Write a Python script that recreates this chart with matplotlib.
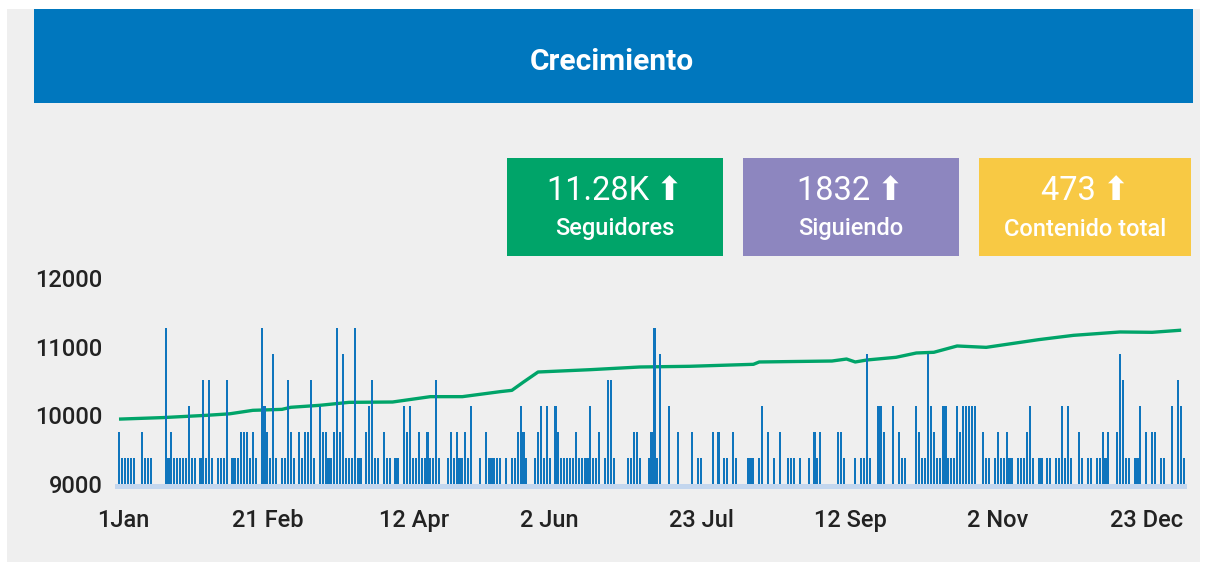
import matplotlib
matplotlib.use("Agg")
import matplotlib.pyplot as plt
from matplotlib.patches import Rectangle
from matplotlib import font_manager as fm

plt.rcParams['font.family'] = ['Roboto', 'DejaVu Sans']

# ---------------- data ----------------
title = "Crecimiento"
kpi_values = ["11.28K", "1832", "473"]
kpi_labels = ["Seguidores", "Siguiendo", "Contenido total"]
kpi_colors = ["#00a469", "#8d86bf", "#f8c944"]

tick_labels = ["1Jan", "21 Feb", "12 Apr", "2 Jun", "23 Jul", "12 Sep", "2 Nov", "23 Dec"]
tick_pos = [1.5, 51, 101.5, 148, 200, 251.5, 302, 353]

y_ticks = [9000, 10000, 11000, 12000]

# daily content count (bars), one value per day
posts_per_day = [
    2, 1, 1, 1, 1, 1, 0, 0, 2, 1,
    1, 1, 0, 0, 0, 0, 6, 1, 2, 1,
    1, 1, 1, 1, 3, 1, 1, 0, 1, 4,
    1, 4, 1, 0, 1, 1, 1, 4, 0, 1,
    1, 1, 2, 2, 2, 1, 2, 1, 0, 6,
    3, 2, 1, 5, 1, 0, 1, 1, 4, 2,
    1, 0, 2, 1, 2, 2, 4, 1, 0, 3,
    2, 2, 1, 1, 2, 6, 2, 5, 1, 1,
    1, 6, 1, 1, 0, 2, 3, 4, 1, 1,
    0, 2, 1, 1, 0, 1, 1, 0, 3, 2,
    3, 1, 1, 2, 1, 1, 2, 1, 1, 4,
    1, 0, 0, 1, 2, 1, 2, 1, 1, 2,
    1, 3, 0, 0, 1, 0, 2, 1, 1, 1,
    1, 1, 0, 1, 0, 1, 1, 2, 3, 2,
    1, 0, 0, 1, 2, 3, 1, 3, 1, 0,
    3, 2, 1, 1, 1, 1, 1, 2, 1, 1,
    1, 1, 3, 1, 1, 2, 0, 1, 4, 4,
    1, 0, 0, 0, 0, 1, 1, 2, 2, 1,
    0, 0, 1, 2, 6, 1, 5, 0, 0, 3,
    0, 0, 2, 0, 0, 0, 0, 2, 0, 1,
    1, 0, 0, 0, 2, 0, 2, 0, 1, 1,
    0, 2, 1, 0, 0, 0, 1, 1, 1, 0,
    1, 3, 0, 2, 0, 1, 0, 2, 0, 0,
    1, 1, 1, 0, 1, 0, 0, 1, 0, 2,
    1, 2, 0, 0, 0, 0, 0, 2, 2, 1,
    0, 0, 0, 1, 0, 1, 1, 5, 1, 0,
    0, 3, 3, 2, 0, 0, 3, 0, 2, 1,
    1, 0, 0, 0, 3, 2, 1, 1, 5, 3,
    2, 1, 1, 3, 3, 1, 1, 1, 3, 2,
    3, 3, 3, 3, 3, 0, 0, 2, 1, 1,
    0, 1, 2, 1, 1, 2, 1, 1, 0, 1,
    1, 1, 2, 3, 1, 0, 1, 1, 0, 1,
    1, 0, 1, 1, 3, 1, 3, 1, 0, 0,
    2, 1, 0, 1, 1, 0, 1, 1, 2, 1,
    2, 0, 0, 2, 5, 4, 1, 1, 0, 1,
    1, 3, 0, 2, 0, 2, 2, 0, 1, 1,
    0, 0, 3, 0, 4, 3, 1,
]

# followers (line)
follower_days = [0, 15, 30, 38, 46, 56, 59, 69, 79, 94, 107, 118, 131, 135, 139,
                 144, 162, 179, 196, 218, 220, 245, 250, 253, 257, 267, 274, 280,
                 288, 298, 316, 328, 344, 355, 365]
follower_values = [9945, 9967, 10000, 10022, 10073, 10087, 10117, 10146, 10189,
                   10194, 10272, 10272, 10345, 10364, 10485, 10631, 10665, 10704,
                   10714, 10743, 10777, 10791, 10820, 10777, 10806, 10845, 10908,
                   10918, 11010, 10990, 11102, 11165, 11214, 11209, 11240]

# ---------------- fonts ----------------
medium_file = None
for f in fm.fontManager.ttflist:
    if f.name == "Roboto" and f.weight in (500, "medium") and f.style == "normal":
        medium_file = f.fname
        break
if medium_file:
    tick_fp = fm.FontProperties(fname=medium_file, size=17)
    label_fp = fm.FontProperties(fname=medium_file, size=17)
else:
    tick_fp = fm.FontProperties(family="Roboto", weight="bold", size=16.5)
    label_fp = fm.FontProperties(family="Roboto", weight="normal", size=17)

# ---------------- figure ----------------
W, H = 1208, 565
fig = plt.figure(figsize=(W / 100, H / 100), dpi=100, facecolor="white")

def fx(px):
    return px / W

def fy(py):
    return 1 - py / H

# panel background
fig.patches.append(Rectangle((fx(7), fy(562)), fx(1200) - fx(7), fy(9) - fy(562),
                             transform=fig.transFigure, facecolor="#efefef",
                             edgecolor="none", zorder=-10))
# header
fig.patches.append(Rectangle((fx(34), fy(103)), fx(1193) - fx(34), fy(9) - fy(103),
                             transform=fig.transFigure, facecolor="#0077be",
                             edgecolor="none", zorder=-5))
fig.text(fx(612), fy(62), title, color="white", fontsize=21.5, fontweight="bold",
         ha="center", va="center")

# KPI cards
card_x = [(507, 723), (743, 959), (979, 1191)]
for (x0, x1), val, lab, col in zip(card_x, kpi_values, kpi_labels, kpi_colors):
    fig.patches.append(Rectangle((fx(x0), fy(256)), fx(x1) - fx(x0), fy(158) - fy(256),
                                 transform=fig.transFigure, facecolor=col,
                                 edgecolor="none", zorder=-5))
    cx = (x0 + x1) / 2
    fig.text(fx(cx), fy(191), val + "\u2009\u2B06", color="white", fontsize=23.5,
             ha="center", va="center")
    fig.text(fx(cx), fy(229), lab, color="white", fontproperties=label_fp,
             ha="center", va="center")

# chart axes
ax = fig.add_axes([fx(115), fy(484), fx(1187) - fx(115), fy(278) - fy(484)])
ax.set_facecolor("none")
ax.set_xlim(-1.375, 367.0)
ax.set_ylim(9000, 12000)
ax.plot(follower_days, follower_values, color="#00a469", lw=2.4, solid_capstyle="butt",
        zorder=2)
ax.set_yticks(y_ticks)
ax.set_yticklabels([str(v) for v in y_ticks])
ax.set_xticks(tick_pos)
ax.set_xticklabels(tick_labels)
ax.tick_params(axis="both", length=0, labelcolor="#222222")
ax.tick_params(axis="y", pad=9)
ax.tick_params(axis="x", pad=18)
for lbl in ax.get_xticklabels() + ax.get_yticklabels():
    lbl.set_fontproperties(tick_fp)
for s in ax.spines.values():
    s.set_visible(False)

# baseline strip
ax.add_patch(Rectangle((0, -5 / 206), 1, 5 / 206, transform=ax.transAxes,
                       facecolor="#c3d6ee", edgecolor="none", clip_on=False))

# bars on secondary (hidden) axis
ax2 = ax.twinx()
ax2.set_ylim(0, 206 / 26)
ax2.set_xlim(ax.get_xlim())
ax2.bar(range(len(posts_per_day)), posts_per_day, width=0.72, color="#0f75bd",
        edgecolor="none", zorder=3)
ax2.set_yticks([])
for s in ax2.spines.values():
    s.set_visible(False)

fig.savefig("out.png", dpi=100, facecolor="white")
